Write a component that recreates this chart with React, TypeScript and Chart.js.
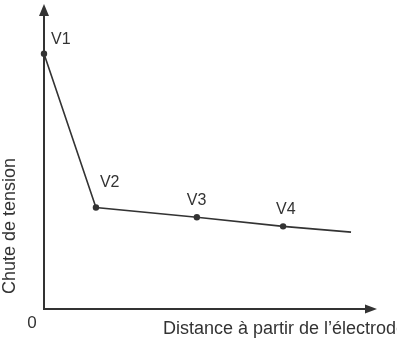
import React, { useEffect, useRef } from "react";
import { Chart, registerables } from "chart.js";

Chart.register(...registerables);

// Data (arbitrary units)
const distance: number[] = [0, 15.6, 45.9, 71.8, 92.2];
const tension: number[] = [83.7, 33.3, 30.1, 27.1, 25.2];
const pointLabels: string[] = ["V1", "V2", "V3", "V4", ""];
const xAxisTitle = "Distance à partir de l’électrode";
const yAxisTitle = "Chute de tension";
const originLabel = "0";

// styling for labels (offsets from the point, in px)
const labelOffsets: [number, number][] = [
  [7, -10],
  [4, -20],
  [-10, -12],
  [-7, -12],
  [0, 0],
];

const INK = "#333333";
const FONT = "'Liberation Sans', Arial, sans-serif";

const overlayPlugin = {
  id: "overlay",
  afterDatasetsDraw(chart: any) {
    const ctx = chart.ctx as CanvasRenderingContext2D;
    const { left, right, top, bottom } = chart.chartArea;
    ctx.save();
    // axes
    ctx.strokeStyle = INK;
    ctx.fillStyle = INK;
    ctx.lineWidth = 2;
    ctx.beginPath();
    ctx.moveTo(left, top + 8);
    ctx.lineTo(left, bottom);
    ctx.lineTo(right - 8, bottom);
    ctx.stroke();
    // y arrow
    ctx.beginPath();
    ctx.moveTo(left, top);
    ctx.lineTo(left - 5, top + 12);
    ctx.lineTo(left + 5, top + 12);
    ctx.closePath();
    ctx.fill();
    // x arrow
    ctx.beginPath();
    ctx.moveTo(right, bottom);
    ctx.lineTo(right - 12, bottom - 4.5);
    ctx.lineTo(right - 12, bottom + 4.5);
    ctx.closePath();
    ctx.fill();

    // point labels
    const meta = chart.getDatasetMeta(0);
    ctx.font = `16px ${FONT}`;
    ctx.textAlign = "left";
    ctx.textBaseline = "alphabetic";
    meta.data.forEach((pt: any, i: number) => {
      const lbl = pointLabels[i];
      if (!lbl) return;
      const [dx, dy] = labelOffsets[i];
      ctx.fillText(lbl, pt.x + dx, pt.y + dy);
    });

    // origin label
    ctx.font = `17px ${FONT}`;
    ctx.textAlign = "center";
    ctx.fillText(originLabel, left - 12, bottom + 19);

    // x title
    ctx.font = `18px ${FONT}`;
    ctx.textAlign = "left";
    ctx.fillText(xAxisTitle, 163, bottom + 25);

    // y title
    ctx.save();
    ctx.translate(15, 226);
    ctx.rotate(-Math.PI / 2);
    ctx.textAlign = "center";
    ctx.fillText(yAxisTitle, 0, 0);
    ctx.restore();

    ctx.restore();
  },
};

export default function App() {
  const ref = useRef<HTMLCanvasElement | null>(null);
  useEffect(() => {
    if (!ref.current) return;
    const chart = new Chart(ref.current, {
      type: "line",
      data: {
        datasets: [
          {
            data: distance.map((x, i) => ({ x, y: tension[i] })),
            borderColor: INK,
            borderWidth: 1.6,
            pointRadius: pointLabels.map((l) => (l ? 3.2 : 0)),
            pointBackgroundColor: INK,
            pointBorderColor: INK,
            pointBorderWidth: 0,
            tension: 0,
            clip: false as any,
          },
        ],
      },
      options: {
        animation: false,
        responsive: true,
        maintainAspectRatio: false,
        layout: { padding: { left: 44, right: 20, top: 3, bottom: 32 } },
        plugins: { legend: { display: false }, tooltip: { enabled: false } },
        scales: {
          x: { type: "linear", min: 0, max: 100, display: false },
          y: { type: "linear", min: 0, max: 100, display: false },
        },
      },
      plugins: [overlayPlugin],
    });
    return () => chart.destroy();
  }, []);
  return (
    <div style={{ position: "absolute", left: 0, top: 0, width: 397, height: 341, background: "#fff" }}>
      <canvas ref={ref} />
    </div>
  );
}
